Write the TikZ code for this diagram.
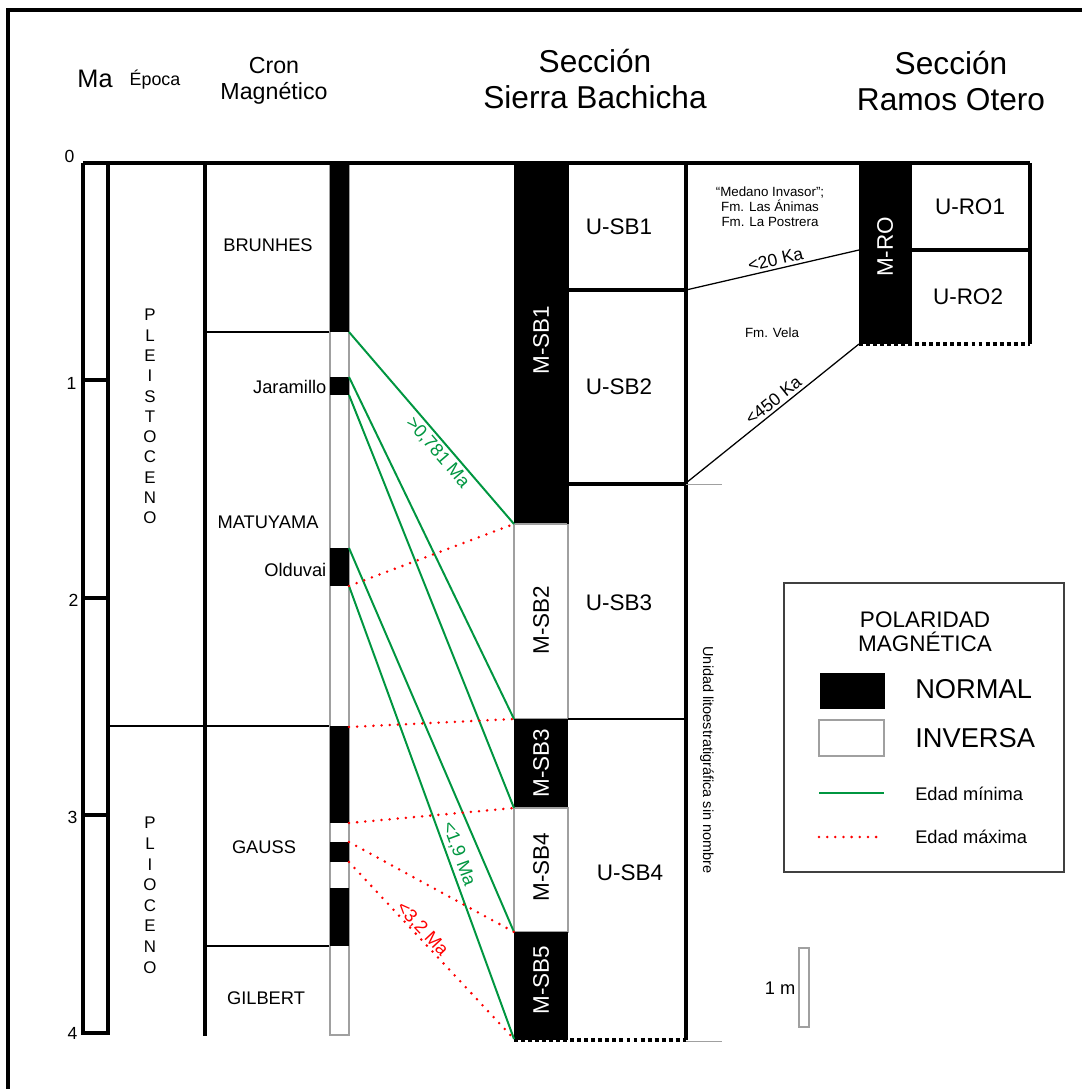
\documentclass[tikz,border=0pt]{standalone}
\usepackage{fontspec}
\setmainfont{Liberation Sans}
\usepackage{tikz}
\usetikzlibrary{positioning}
\definecolor{mincol}{RGB}{0,150,64}
\definecolor{maxcol}{RGB}{255,0,0}
\definecolor{edgecol}{RGB}{160,160,160}
\begin{document}
\begin{tikzpicture}[x=0.025cm,y=-0.025cm,
  heavy/.style={line width=2.6pt},
  bnd/.style={line width=0.9pt},
  inverse/.style={fill=white,draw=edgecol,line width=0.8pt},
  minage/.style={mincol,line width=1.4pt},
  maxage/.style={maxcol,line width=2pt,line cap=round,dash pattern=on 0pt off 5.8pt},
  basedots/.style={line width=2.8pt,dash pattern=on 2.8pt off 2.2pt},
  hdr/.style={font=\fontsize{22.5}{25}\selectfont,align=center},
  chron/.style={font=\fontsize{13}{15}\selectfont,inner sep=1pt},
  epo/.style={font=\fontsize{12}{14}\selectfont,inner sep=0pt},
  unitlbl/.style={font=\fontsize{16}{18}\selectfont,inner sep=1pt},
  msb/.style={unitlbl,rotate=90},
  fmlbl/.style={font=\fontsize{9.5}{10.6}\selectfont,align=center,inner sep=1pt},
  agelbl/.style={font=\fontsize{13}{15}\selectfont,sloped,inner sep=2pt},
  malbl/.style={font=\fontsize{12.5}{14}\selectfont,anchor=east,inner sep=1pt}
]
\useasboundingbox (0,0) rectangle (1082,1089);
\def\barL{330}\def\barR{349}\def\secL{514}\def\secM{568}\def\secR{686}
% frame
\draw[line width=2.8pt] (8,1089) -- (8,10) -- (1082,10);
% headers
\node[font=\fontsize{18}{20}\selectfont] (hma) at (95,79) {Ma};
\node[font=\fontsize{12.7}{14}\selectfont] (hep) at (155,80) {Época};
\node[font=\fontsize{16.5}{18.5}\selectfont,align=center] (hcr) at (274,81) {Cron\\Magnético};
\node[hdr] (hsb) at (595,79) {Sección\\Sierra Bachicha};
\node[hdr] (hro) at (951,81) {Sección\\Ramos Otero};
% Ma scale
\draw[heavy] (83,163) -- (83,1033) -- (108,1033) -- (108,163);
\foreach \t in {380,598,815}
  \draw[heavy] (83,\t) -- (108,\t);
\node[malbl] (m0) at (76,156) {0};
\node[malbl] (m1) at (78,383) {1};
\node[malbl] (m2) at (80,600) {2};
\node[malbl] (m3) at (79,817) {3};
\node[malbl] (m4) at (79,1033) {4};
% epochs
\draw[heavy] (205,163) -- (205,1036);
\draw[bnd] (108,726) -- (\barL,726);
\foreach \l [count=\i from 0] in {P,L,E,I,S,T,O,C,E,N,O}
  \node[epo] (ple\i) at (150,{315+20.3*\i}) {\l};
\foreach \l [count=\i from 0] in {P,L,I,O,C,E,N,O}
  \node[epo] (pli\i) at (150,{823+20.6*\i}) {\l};
% chrons
\draw[bnd] (205,332) -- (\barL,332);
\draw[bnd] (205,946) -- (\barL,946);
\node[chron] (brunhes) at (268,245) {BRUNHES};
\node[chron] (matuyama) at (268,522) {MATUYAMA};
\node[chron] (gauss) at (264,847) {GAUSS};
\node[chron] (gilbert) at (266,998) {GILBERT};
\node[chron,anchor=east] (jaramillo) at (328,387) {Jaramillo};
\node[chron,anchor=east] (olduvai) at (328,570) {Olduvai};
% polarity bar
\draw[inverse] (\barL,163) rectangle (\barR,1035);
\foreach \a/\b in {163/332,377/395,548/586,726/823,842/862,888/946}
  \fill (\barL,\a) rectangle (\barR,\b);
% Sierra Bachicha
\fill (\secL,163) rectangle (\secM,524);
\draw[inverse] (\secL,524) rectangle (\secM,719);
\fill (\secL,719) rectangle (\secM,808);
\draw[inverse] (\secL,808) rectangle (\secM,932);
\fill (\secL,932) rectangle (\secM,1040);
\draw[bnd] (\secM,163) -- (\secM,524);
\draw[heavy] (\secM,290) -- (\secR,290);
\draw[heavy] (\secM,484) -- (\secR,484);
\draw[bnd] (\secM,719) -- (\secR,719);
\draw[heavy] (\secR,163) -- (\secR,1040);
\draw[basedots] (\secL,1040) -- (\secR,1040);
\draw[edgecol,line width=0.6pt] (\secR,484) -- (722,484);
\draw[edgecol,line width=0.6pt] (\secR,1041) -- (722,1041);
\node[msb,white] (msb1) at (541,340) {M-SB1};
\node[msb] (msb2) at (541,620) {M-SB2};
\node[msb,white] (msb3) at (541,763) {M-SB3};
\node[msb] (msb4) at (541,867) {M-SB4};
\node[msb,white] (msb5) at (541,980) {M-SB5};
\node[unitlbl] (usb1) at (619,227) {U-SB1};
\node[unitlbl] (usb2) at (619,387) {U-SB2};
\node[unitlbl] (usb3) at (619,603) {U-SB3};
\node[unitlbl] (usb4) at (630,873) {U-SB4};
\node[fmlbl,rotate=-90,font=\fontsize{10.3}{11}\selectfont] (unnamed) at (707,760) {Unidad litoestratigráfica sin nombre};
% Ramos Otero
\fill (859,163) rectangle (912,344);
\draw[heavy] (1030,163) -- (1030,344);
\draw[heavy] (912,250) -- (1030,250);
\draw[basedots] (859,344) -- (1030,344);
\draw[heavy] (83,163) -- (1030,163);
\node[unitlbl,rotate=90,white] (mro) at (885,247) {M-RO};
\node[unitlbl] (uro1) at (970,207) {U-RO1};
\node[unitlbl] (uro2) at (968,297) {U-RO2};
\node[fmlbl] (medano) at (770,207) {“Medano Invasor”;\\Fm. Las Ánimas\\Fm. La Postrera};
\node[fmlbl] (vela) at (772,333) {Fm. Vela};
\coordinate (r1) at (\secR,290); \coordinate (r2) at (859,250);
\coordinate (r3) at (\secR,483); \coordinate (r4) at (859,344);
\draw[bnd] (r1) -- node[agelbl,above,pos=0.53,font=\fontsize{12.5}{14}\selectfont] (k20) {<20 Ka} (r2);
\draw[bnd] (r3) -- node[agelbl,above,pos=0.54,font=\fontsize{12.5}{14}\selectfont] (k450) {<450 Ka} (r4);
% correlation points
\coordinate (cbm) at (\barR,332); \coordinate (cjt) at (\barR,377);
\coordinate (cjb) at (\barR,395); \coordinate (cot) at (\barR,548);
\coordinate (cob) at (\barR,586); \coordinate (cmg) at (\barR,727);
\coordinate (cg1) at (\barR,823); \coordinate (cg2) at (\barR,842);
\coordinate (cg3) at (\barR,862);
\coordinate (s1) at (\secL,524); \coordinate (s2) at (\secL,719);
\coordinate (s3) at (\secL,808); \coordinate (s4) at (\secL,932);
\coordinate (s5) at (\secL,1039);
\draw[minage] (cbm) -- node[agelbl,below,pos=0.59] (a781) {>0,781 Ma} (s1);
\draw[minage] (cjt) -- (s2);
\draw[minage] (cjb) -- (s3);
\draw[minage] (cot) -- (s4);
\draw[minage] (cob) -- node[agelbl,above,pos=0.6] (a19) {<1,9 Ma} (s5);
\draw[maxage] (cob) -- (s1);
\draw[maxage] (cmg) -- (s2);
\draw[maxage] (cg1) -- (s3);
\draw[maxage] (cg2) -- (s4);
\draw[maxage] (cg3) -- node[agelbl,above=-3pt,pos=0.41] (a32) {<3,2 Ma} (s5);
% legend
\draw[black!75,line width=0.9pt] (784,583) rectangle (1064,872);
\node[font=\fontsize{16}{17}\selectfont,align=center] (legtitle) at (925,632) {POLARIDAD\\MAGNÉTICA};
\fill (820,673) rectangle (885,709);
\draw[inverse] (819,720) rectangle (884,756);
\coordinate (lg1) at (819,793); \coordinate (lg2) at (884,793);
\coordinate (lr1) at (819,837); \coordinate (lr2) at (884,837);
\draw[minage] (lg1) -- (lg2);
\draw[maxage] (lr1) -- (lr2);
\node[font=\fontsize{19.4}{21}\selectfont,anchor=west,inner sep=0pt] (lnorm) at (915,689) {NORMAL};
\node[font=\fontsize{19.4}{21}\selectfont,anchor=west,inner sep=0pt] (linv) at (915,738) {INVERSA};
\node[chron,anchor=west,inner sep=0pt] (lmin) at (915,794) {Edad mínima};
\node[chron,anchor=west,inner sep=0pt] (lmax) at (915,837) {Edad máxima};
% scale bar
\draw[edgecol,line width=0.8pt] (799,948) rectangle (809,1027);
\node[chron,anchor=east] (scale) at (797,988) {1 m};
\end{tikzpicture}
\end{document}
